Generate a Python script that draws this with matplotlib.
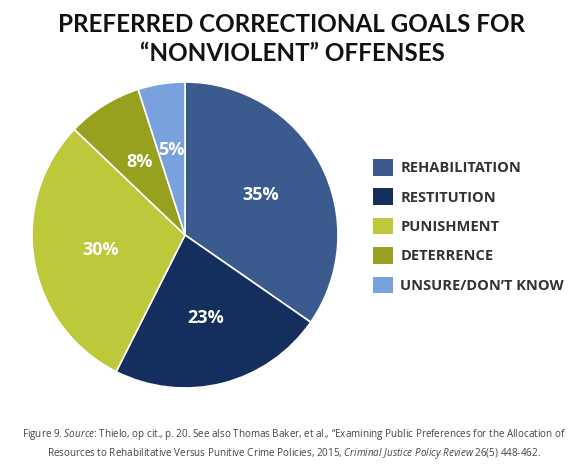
import matplotlib
matplotlib.use("Agg")
import matplotlib.pyplot as plt
from matplotlib.patches import Patch
import numpy as np

plt.rcParams['font.family'] = ['Open Sans', 'DejaVu Sans']
plt.rcParams['mathtext.fontset'] = 'custom'
plt.rcParams['mathtext.rm'] = 'Open Sans'
plt.rcParams['mathtext.it'] = 'Open Sans:italic'

goals = ['REHABILITATION', 'RESTITUTION', 'PUNISHMENT', 'DETERRENCE', 'UNSURE/DON\u2019T KNOW']
shares = [35, 23, 30, 8, 5]
colors = ['#3b5b8f', '#142e5d', '#bdc83a', '#98a01f', '#78a1dd']

W, H = 587, 470
fig = plt.figure(figsize=(W / 100, H / 100), dpi=100)

# pie axes, center ~ (185, 235), radius ~153 px
cx, cy, r = 185, 235, 153
ax = fig.add_axes([(cx - r) / W, (H - cy - r) / H, 2 * r / W, 2 * r / H])
wedges, _ = ax.pie(shares, colors=colors, startangle=90, counterclock=False,
                   wedgeprops=dict(edgecolor='white', linewidth=1.2), radius=1.0)
ax.set_xlim(-1, 1)
ax.set_ylim(-1, 1)
ax.set_aspect('equal')

for w, v in zip(wedges, shares):
    mid = np.deg2rad((w.theta1 + w.theta2) / 2)
    d = 0.56
    ax.text(d * np.cos(mid), d * np.sin(mid), f"{v}%", ha='center', va='center',
            color='white', fontsize=13, fontweight='bold')

handles = [Patch(facecolor=c, edgecolor='none') for c in colors]
fig.legend(handles, goals, loc='upper left', bbox_to_anchor=(373 / W, 1 - 159 / H),
           frameon=False, handlelength=1.37, handleheight=1.37,
           handletextpad=0.5, labelspacing=0.88, borderpad=0, borderaxespad=0,
           labelcolor='#333333', prop={'weight': 'bold', 'size': 10.5})

fig.text(292 / W, 1 - 39 / H, 'PREFERRED CORRECTIONAL GOALS FOR\n\u201cNONVIOLENT\u201d OFFENSES',
         ha='center', va='center', fontsize=17.4, fontweight='bold', color='#111111',
         family=['Lato', 'DejaVu Sans'], linespacing=1.35)

caption = (r"Figure 9. $\mathit{Source}$: Thielo, op cit., p. 20. See also Thomas Baker, et al., "
           "\u201cExamining Public Preferences for the Allocation of\n"
           r"Resources to Rehabilitative Versus Punitive Crime Policies, 2015, "
           r"$\mathit{Criminal\ Justice\ Policy\ Review}$ 26(5) 448-462.")
fig.text(294 / W, 1 - 444 / H, caption, ha='center', va='center', fontsize=7.1,
         color='#444444', linespacing=1.4)

fig.savefig('out.png', dpi=100, facecolor='white')
